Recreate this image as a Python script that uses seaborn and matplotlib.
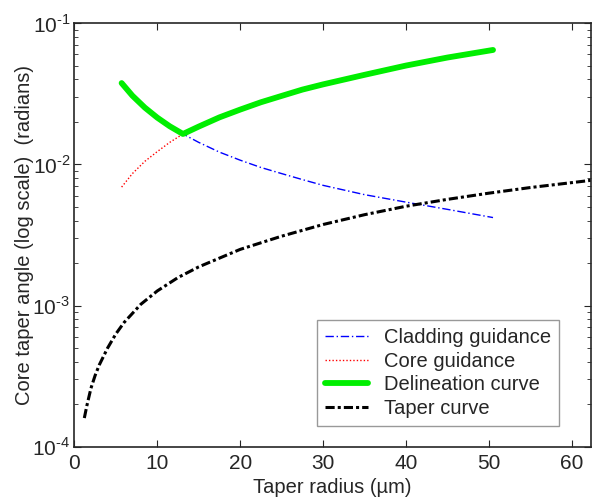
import numpy as np
import pandas as pd
import matplotlib
matplotlib.use('Agg')
import matplotlib.pyplot as plt
import matplotlib.ticker as mticker
import seaborn as sns

# guidance curves
radius = [5.7, 7, 8.5, 10, 11.5, 13.1, 15, 17.5, 20, 22.5, 25, 27.5, 30, 35, 40, 45, 50.5]
cladding = [0.0376, 0.0306, 0.0252, 0.0214, 0.0186, 0.0164, 0.0143, 0.0122, 0.0107, 0.0095,
            0.0086, 0.0078, 0.0071, 0.0061, 0.0054, 0.0048, 0.0042]
core = [0.0069, 0.0086, 0.0105, 0.0123, 0.0143, 0.0164, 0.0185, 0.0215, 0.0244, 0.0275,
        0.0305, 0.0338, 0.0368, 0.0430, 0.0500, 0.0570, 0.0645]

# taper curve
taper_radius = [1.2, 1.5, 2, 2.5, 3, 4, 5, 6, 8, 10, 12.5, 15, 20, 25, 30, 35, 40, 45, 50, 55, 62.3]
taper_angle = [1.6e-4, 1.95e-4, 2.6e-4, 3.2e-4, 3.8e-4, 5.0e-4, 6.3e-4, 7.6e-4, 1.02e-3, 1.27e-3,
               1.58e-3, 1.88e-3, 2.5e-3, 3.1e-3, 3.75e-3, 4.4e-3, 5.05e-3, 5.65e-3, 6.25e-3,
               6.85e-3, 7.7e-3]

df = pd.DataFrame({'radius': radius, 'cladding': cladding, 'core': core})
df['delineation'] = np.maximum(df['cladding'], df['core'])
taper = pd.DataFrame({'radius': taper_radius, 'angle': taper_angle})

sns.set_style('ticks')
plt.rcParams['font.family'] = ['Liberation Sans', 'DejaVu Sans']
plt.rcParams['mathtext.fontset'] = 'custom'
plt.rcParams['mathtext.rm'] = 'Liberation Sans'

fig, ax = plt.subplots(figsize=(5.95, 5.01), dpi=100)

sns.lineplot(data=df, x='radius', y='cladding', ax=ax, color='#0000ff', lw=1,
             linestyle=(0, (6, 2, 1, 2)), label='Cladding guidance')
sns.lineplot(data=df, x='radius', y='core', ax=ax, color='#ff0000', lw=1,
             linestyle=(0, (1, 1.5)), label='Core guidance')
sns.lineplot(data=df, x='radius', y='delineation', ax=ax, color='#00ee00', lw=4.2,
             label='Delineation curve')
sns.lineplot(data=taper, x='radius', y='angle', ax=ax, color='black', lw=2.2,
             linestyle=(0, (3, 1, 1, 1)), label='Taper curve')

ax.set_yscale('log')
ax.set_xlim(0, 62.3)
ax.set_ylim(1e-4, 1e-1)
ax.set_xticks([0, 10, 20, 30, 40, 50, 60])
ax.yaxis.set_major_formatter(mticker.FuncFormatter(
    lambda v, pos: r'$10^{\text{-}%d}$' % round(-np.log10(v))))
ax.tick_params(which='both', direction='in', top=True, right=True, labelsize=15, pad=5)
ax.tick_params(axis='y', pad=3)
ax.tick_params(which='major', length=5)
ax.tick_params(which='minor', length=3)
for s in ax.spines.values():
    s.set_linewidth(1.2)
ax.set_xlabel('Taper radius (µm)', fontsize=14.5, labelpad=4)
ax.set_ylabel('Core taper angle (log scale)  (radians)', fontsize=14.5)
ax.yaxis.set_label_coords(-0.078, 0.5)

leg = ax.legend(loc='lower right', bbox_to_anchor=(0.938, 0.05), borderaxespad=0,
                fontsize=14.5, frameon=True, fancybox=False, edgecolor='#808080',
                handlelength=2.1, labelspacing=0.22, handletextpad=0.8, borderpad=0.4)
leg.get_frame().set_linewidth(1)

fig.subplots_adjust(left=0.125, right=0.993, top=0.954, bottom=0.108)
fig.savefig('out.png', dpi=100)
